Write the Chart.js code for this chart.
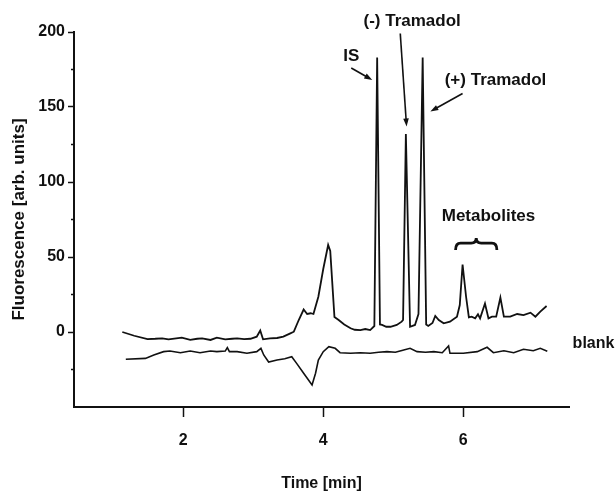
<!DOCTYPE html>
<html>
<head>
<meta charset="utf-8">
<script src="https://cdn.jsdelivr.net/npm/chart.js@4"></script>
<style>
  html, body { margin: 0; padding: 0; background: #fff; }
  #wrap { width: 616px; height: 492px; }
</style>
</head>
<body>
<div id="wrap"><canvas id="chart" width="616" height="492"></canvas></div>
<script>
// Chromatogram data (time in min, fluorescence in arb. units)
const sampleTime = [1.13, 1.30, 1.49, 1.60, 1.70, 1.79, 1.90, 1.98, 2.10, 2.20, 2.27, 2.39, 2.48, 2.60, 2.70, 2.77, 2.87, 2.96, 3.05, 3.10, 3.14, 3.24, 3.34, 3.43, 3.53, 3.58, 3.65, 3.72, 3.77, 3.82, 3.86, 3.93, 4.00, 4.07, 4.10, 4.16, 4.22, 4.30, 4.39, 4.45, 4.53, 4.60, 4.67, 4.73, 4.77, 4.81, 4.84, 4.90, 4.96, 5.05, 5.12, 5.14, 5.18, 5.24, 5.31, 5.36, 5.42, 5.47, 5.50, 5.56, 5.60, 5.65, 5.72, 5.81, 5.91, 5.95, 5.99, 6.04, 6.08, 6.12, 6.17, 6.21, 6.24, 6.31, 6.36, 6.41, 6.47, 6.53, 6.58, 6.67, 6.77, 6.86, 6.96, 7.03, 7.10, 7.19];
const sampleSignal = [0, -2.5, -4.7, -4.5, -4.2, -4.9, -4.3, -3.8, -5.3, -4.5, -4.2, -5.3, -3.8, -4.9, -4.5, -4.2, -4.8, -4.5, -3.1, 1.0, -4.9, -4.2, -4.0, -3.1, -0.9, 0.2, 8, 15, 12, 12.5, 12, 23.5, 42, 58, 54, 10, 8, 5, 2.5, 1.5, 1.3, 2, 1.3, 4, 183, 5, 4.7, 3.5, 3.5, 4.7, 6.9, 8, 132, 3.5, 4.7, 12, 183, 5, 4, 6, 10.7, 8, 5.8, 6.9, 10.2, 18, 45, 23.5, 9.8, 10.2, 9.1, 11.8, 9.1, 19, 9.1, 10.2, 10.2, 23, 10.2, 10.2, 12, 11.3, 12.9, 10.2, 13.6, 17.3];

const blankTime = [1.18, 1.46, 1.58, 1.72, 1.81, 1.96, 2.10, 2.24, 2.39, 2.48, 2.60, 2.63, 2.66, 2.77, 2.91, 3.05, 3.11, 3.15, 3.22, 3.34, 3.45, 3.55, 3.62, 3.72, 3.84, 3.89, 3.93, 4.00, 4.08, 4.17, 4.24, 4.39, 4.53, 4.67, 4.79, 4.91, 5.03, 5.15, 5.24, 5.34, 5.46, 5.58, 5.70, 5.79, 5.81, 6.00, 6.20, 6.34, 6.43, 6.58, 6.72, 6.86, 7.00, 7.10, 7.20];
const blankSignal = [-18.2, -17.6, -15.3, -13.1, -12.7, -13.8, -12.7, -13.8, -12.7, -13.1, -12.7, -10.4, -13.1, -13.1, -14.2, -13.1, -10.9, -15.3, -20.0, -18.7, -17.8, -16.5, -20.9, -27.5, -35.3, -27.5, -18.7, -13.1, -9.8, -10.9, -13.8, -14.2, -13.8, -14.2, -13.5, -13.1, -13.5, -12, -10.9, -13.1, -13.5, -13.1, -13.8, -9.3, -14.2, -14.2, -13.1, -10.2, -13.8, -12.5, -13.8, -11.5, -12.5, -10.9, -12.8];

// Axis ticks
const xTicks = [2, 4, 6];
const yTicks = [0, 50, 100, 150, 200];
const yMinorTicks = [-25, 25, 75, 125, 175];

// Annotation texts
const peakLabels = ['IS', '(-) Tramadol', '(+) Tramadol', 'Metabolites', 'blank'];

const ink = '#111';
const fontFamily = '"Liberation Sans", Arial, Helvetica, sans-serif';

function toPoints(xs, ys) {
  return xs.map((x, i) => ({ x: x, y: ys[i] }));
}

// Annotations placed in data coordinates
const labelSpots = [[4.40, 184], [5.27, 207], [6.46, 168], [6.36, 77], [7.86, -8]];
const labelSizes = [17, 17, 17, 17, 16];
const arrowSpots = [
  [[4.40, 176], [4.70, 168]],
  [[5.10, 199], [5.19, 137]],
  [[5.99, 159], [5.53, 147]]
];
const braceSpan = { from: 5.89, to: 6.48, end: 54.7, bar: 59.3, tip: 62.7 };

const annotations = {
  id: 'annotations',
  afterDraw(chart) {
    const ctx = chart.ctx;
    const xs = chart.scales.x;
    const ys = chart.scales.y;
    const px = v => xs.getPixelForValue(v);
    const py = v => ys.getPixelForValue(v);

    ctx.save();
    // minor ticks on y axis
    ctx.strokeStyle = ink;
    ctx.lineWidth = 1.5;
    yMinorTicks.forEach(v => {
      ctx.beginPath();
      ctx.moveTo(ys.right - 3, py(v));
      ctx.lineTo(ys.right, py(v));
      ctx.stroke();
    });

    // labels
    ctx.fillStyle = ink;
    ctx.textAlign = 'center';
    ctx.textBaseline = 'middle';
    peakLabels.forEach((t, i) => {
      ctx.font = 'bold ' + labelSizes[i] + 'px ' + fontFamily;
      ctx.fillText(t, px(labelSpots[i][0]), py(labelSpots[i][1]));
    });

    // arrows
    ctx.lineWidth = 1.6;
    arrowSpots.forEach(a => {
      const x1 = px(a[0][0]), y1 = py(a[0][1]);
      const x2 = px(a[1][0]), y2 = py(a[1][1]);
      const ang = Math.atan2(y2 - y1, x2 - x1);
      ctx.beginPath();
      ctx.moveTo(x1, y1);
      ctx.lineTo(x2 - 5 * Math.cos(ang), y2 - 5 * Math.sin(ang));
      ctx.stroke();
      ctx.beginPath();
      ctx.moveTo(x2, y2);
      ctx.lineTo(x2 - 8 * Math.cos(ang) + 2.8 * Math.sin(ang), y2 - 8 * Math.sin(ang) - 2.8 * Math.cos(ang));
      ctx.lineTo(x2 - 8 * Math.cos(ang) - 2.8 * Math.sin(ang), y2 - 8 * Math.sin(ang) + 2.8 * Math.cos(ang));
      ctx.closePath();
      ctx.fill();
    });

    // brace over the metabolites
    const l = px(braceSpan.from), r = px(braceSpan.to), m = (l + r) / 2;
    const yEnd = py(braceSpan.end), yBar = py(braceSpan.bar), yTip = py(braceSpan.tip);
    ctx.lineWidth = 2.8;
    ctx.beginPath();
    ctx.moveTo(l, yEnd);
    ctx.quadraticCurveTo(l, yBar, l + 5, yBar);
    ctx.lineTo(m - 5, yBar);
    ctx.quadraticCurveTo(m, yBar, m, yTip);
    ctx.quadraticCurveTo(m, yBar, m + 5, yBar);
    ctx.lineTo(r - 5, yBar);
    ctx.quadraticCurveTo(r, yBar, r, yEnd);
    ctx.stroke();
    ctx.restore();
  }
};

new Chart(document.getElementById('chart'), {
  type: 'line',
  data: {
    datasets: [
      {
        label: 'sample',
        data: toPoints(sampleTime, sampleSignal),
        borderColor: ink,
        borderWidth: 1.8,
        pointRadius: 0,
        tension: 0,
        fill: false
      },
      {
        label: 'blank',
        data: toPoints(blankTime, blankSignal),
        borderColor: ink,
        borderWidth: 1.6,
        pointRadius: 0,
        tension: 0,
        fill: false
      }
    ]
  },
  options: {
    responsive: false,
    animation: false,
    layout: { padding: { top: 32, right: 47, left: 0, bottom: 0 } },
    plugins: {
      legend: { display: false },
      tooltip: { enabled: false }
    },
    scales: {
      x: {
        type: 'linear',
        min: 0.44,
        max: 7.51,
        afterBuildTicks: axis => { axis.ticks = xTicks.map(v => ({ value: v })); },
        afterFit: scale => { scale.height = 85; },
        grid: { drawOnChartArea: false, tickLength: 10, tickColor: ink, tickWidth: 1.5 },
        border: { color: ink, width: 2 },
        ticks: { color: ink, padding: 14, font: { family: fontFamily, size: 16, weight: 'bold' } },
        title: {
          display: true,
          text: 'Time [min]',
          color: ink,
          font: { family: fontFamily, size: 16, weight: 'bold', lineHeight: 1 },
          padding: { top: 0, bottom: 0 }
        }
      },
      y: {
        type: 'linear',
        min: -50,
        max: 200,
        afterBuildTicks: axis => { axis.ticks = yTicks.map(v => ({ value: v })); },
        afterFit: scale => { scale.width = 74; },
        grid: { drawOnChartArea: false, tickLength: 6, tickColor: ink, tickWidth: 1.5 },
        border: { color: ink, width: 2 },
        ticks: { color: ink, padding: 3, font: { family: fontFamily, size: 16, weight: 'bold' } },
        title: {
          display: true,
          text: 'Fluorescence [arb. units]',
          color: ink,
          font: { family: fontFamily, size: 17, weight: 'bold', lineHeight: 1 },
          padding: { top: 11, bottom: 0 }
        }
      }
    }
  },
  plugins: [annotations]
});
</script>
</body>
</html>
